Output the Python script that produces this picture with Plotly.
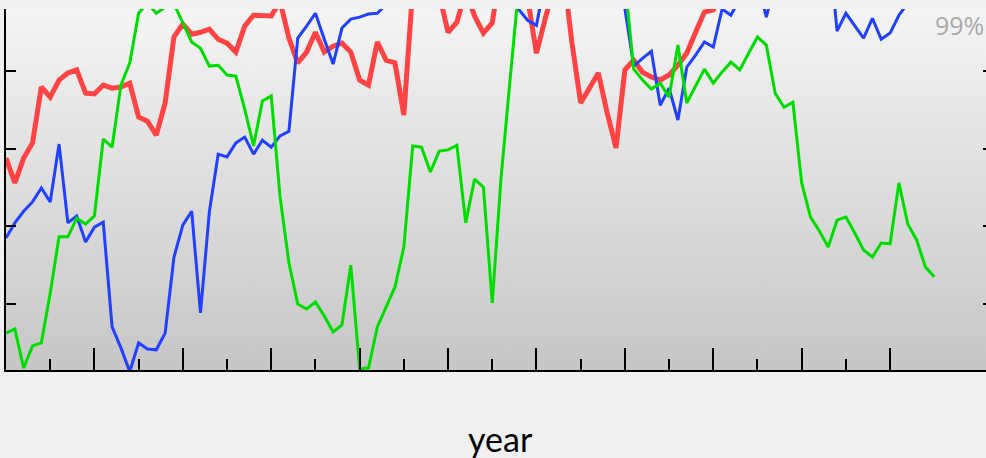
import base64
import plotly.graph_objects as go

years = list(range(1900, 2006))

red_values = [57.6, 51.2, 57.6, 61.5, 75.9, 73.3, 77.7, 79.5, 80.3, 74.3,
              74.1, 76.4, 75.6, 75.9, 76.9, 68.2, 67.1, 63.5, 71.8, 88.8,
              92.1, 89.5, 90.0, 90.8, 88.2, 87.2, 84.9, 91.6, 94.4, 94.4,
              94.2, 98.0, 88.5, 82.1, 84.9, 90.0, 84.9, 86.4, 87.2, 84.9,
              77.7, 76.4, 87.5, 82.8, 82.1, 68.7, 101.0, 104.0, 103.0, 99.8,
              90.0, 92.6, 100.6, 94.2, 89.8, 92.4, 107.5, 110.0, 109.0, 98.8,
              84.6, 93.6, 102.1, 107.0, 87.5, 71.8, 75.6, 79.5, 69.2, 60.2,
              80.3, 82.8, 79.7, 78.5, 77.7, 79.0, 81.5, 84.6, 90.0, 95.2,
              95.8, 100.0, 102.0, 104.0, 103.0, 105.0, 106.0, 104.0, 107.0, 105.0,
              108.0, 106.0, 104.0, 107.0, 109.0, 105.0, 106.0, 108.0, 107.0, 105.0,
              104.0, 106.0, 108.0, 107.0, 105.0, 106.0]

blue_values = [37.0, 40.9, 43.9, 46.3, 49.9, 46.3, 61.2, 40.9, 42.7, 36.0,
               39.8, 41.1, 14.1, 8.7, 2.6, 10.0, 8.4, 8.2, 12.5, 32.1,
               40.3, 43.9, 17.7, 43.7, 58.6, 57.9, 61.5, 63.0, 58.6, 62.2,
               60.4, 63.3, 64.5, 88.5, 91.6, 94.9, 88.2, 81.8, 91.1, 93.4,
               93.9, 94.7, 94.9, 97.2, 101.0, 104.0, 106.0, 103.0, 105.0, 107.0,
               104.0, 102.0, 105.0, 106.0, 104.0, 103.0, 101.0, 100.0, 95.9, 93.1,
               91.8, 103.7, 105.0, 107.0, 104.0, 106.0, 108.0, 105.0, 103.0, 101.0,
               96.1, 81.3, 83.3, 85.1, 71.2, 75.6, 67.4, 81.0, 84.1, 87.5,
               86.2, 96.0, 94.4, 99.0, 103.0, 103.0, 93.9, 103.0, 106.0, 108.0,
               105.0, 107.0, 110.0, 115.0, 90.3, 94.9, 91.6, 88.5, 93.6, 88.2,
               89.8, 94.4, 97.5, 101.0, 103.0, 104.0]

green_values = [12.5, 13.6, 3.5, 9.2, 10.0, 22.8, 37.3, 37.3, 42.1, 40.6,
                42.7, 62.5, 60.4, 76.4, 82.1, 94.9, 97.5, 94.9, 96.5, 97.3,
                92.4, 87.5, 85.9, 81.3, 81.5, 79.0, 78.7, 70.2, 60.7, 72.3,
                73.6, 47.6, 30.6, 20.0, 18.7, 20.5, 16.9, 12.8, 14.6, 30.0,
                3.3, 3.5, 14.1, 19.2, 24.4, 34.7, 60.7, 60.4, 54.0, 59.4,
                59.7, 60.9, 40.9, 52.2, 50.1, 20.3, 52.7, 77.4, 101.8, 104.0,
                107.0, 105.0, 109.0, 106.0, 103.0, 105.0, 108.0, 106.0, 104.0, 105.0,
                103.3, 80.5, 77.7, 75.4, 76.9, 73.3, 86.7, 71.8, 76.1, 80.5,
                76.9, 79.8, 82.3, 80.3, 84.6, 88.8, 86.7, 74.3, 70.7, 72.0,
                51.2, 42.4, 38.8, 34.7, 41.6, 42.4, 38.3, 33.9, 32.1, 35.7,
                35.5, 51.2, 40.6, 36.5, 29.5, 27.0]

major_ticks = list(range(1910, 2001, 10))
minor_ticks = list(range(1905, 1996, 10))
y_ticks = [20, 40, 60, 80]
y_range = [3.0, 96.0]

W, H = 986, 458
ML, MR, MT, MB = 6, 0, 9, 88
px_per_year = 8.841
x_range = [1900, 1900 + (W - ML - MR) / px_per_year]

svg = ('<svg xmlns="http://www.w3.org/2000/svg" width="10" height="100" preserveAspectRatio="none">'
       '<defs><linearGradient id="g" x1="0" y1="0" x2="0" y2="1">'
       '<stop offset="0" stop-color="#f4f4f4"/><stop offset="1" stop-color="#c6c6c6"/>'
       '</linearGradient></defs><rect width="10" height="100" fill="url(#g)"/></svg>')
bg_src = "data:image/svg+xml;base64," + base64.b64encode(svg.encode()).decode()

fig = go.Figure()
fig.add_trace(go.Scatter(x=years, y=red_values, mode="lines",
                         line=dict(color="#ff4242", width=5), showlegend=False, hoverinfo="skip"))
fig.add_trace(go.Scatter(x=years, y=blue_values, mode="lines",
                         line=dict(color="#2040ff", width=3), showlegend=False, hoverinfo="skip"))
fig.add_trace(go.Scatter(x=years, y=green_values, mode="lines",
                         line=dict(color="#00dd00", width=3), showlegend=False, hoverinfo="skip"))
fig.add_trace(go.Scatter(x=[], y=[], yaxis="y2", showlegend=False, hoverinfo="skip"))

fig.update_layout(
    width=W, height=H,
    margin=dict(l=ML, r=MR, t=MT, b=MB, pad=0),
    paper_bgcolor="#f0f0f0",
    plot_bgcolor="rgba(0,0,0,0)",
    showlegend=False,
    images=[dict(source=bg_src, xref="paper", yref="paper", x=0, y=1,
                 sizex=1, sizey=1, sizing="stretch", layer="below",
                 xanchor="left", yanchor="top")],
    xaxis=dict(range=x_range, showgrid=False, zeroline=False,
               showline=True, linecolor="black", linewidth=1.5,
               ticks="inside", ticklen=22, tickwidth=1.5, tickcolor="black",
               tickmode="array", tickvals=major_ticks, showticklabels=False,
               minor=dict(ticks="inside", ticklen=11, tickwidth=1.5, tickcolor="black",
                          tickmode="array", tickvals=minor_ticks, showgrid=False)),
    yaxis=dict(range=y_range, showgrid=False, zeroline=False,
               showline=True, linecolor="black", linewidth=1.5,
               ticks="inside", ticklen=10, tickwidth=1.5, tickcolor="black",
               tickmode="array", tickvals=y_ticks, showticklabels=False),
    yaxis2=dict(range=y_range, overlaying="y", side="right", anchor="x",
                showgrid=False, zeroline=False, showline=False,
                ticks="inside", ticklen=3, tickwidth=1.5, tickcolor="black",
                tickmode="array", tickvals=y_ticks, showticklabels=False),
    annotations=[
        dict(text="year", xref="paper", yref="paper", x=0.5, y=-0.2, xshift=4, yshift=4,
             xanchor="center", yanchor="middle", showarrow=False,
             font=dict(family="Lato", size=34, color="black")),
        dict(text="99%", xref="paper", yref="paper", x=1, y=1, yshift=3,
             xanchor="right", yanchor="top", showarrow=False,
             font=dict(family="Open Sans", size=25, color="#aaaaaa")),
    ],
)

fig.write_html("out.html", config={"displayModeBar": False},
               post_script="document.body.style.margin='0';document.body.style.overflow='hidden';document.documentElement.style.overflow='hidden';")
